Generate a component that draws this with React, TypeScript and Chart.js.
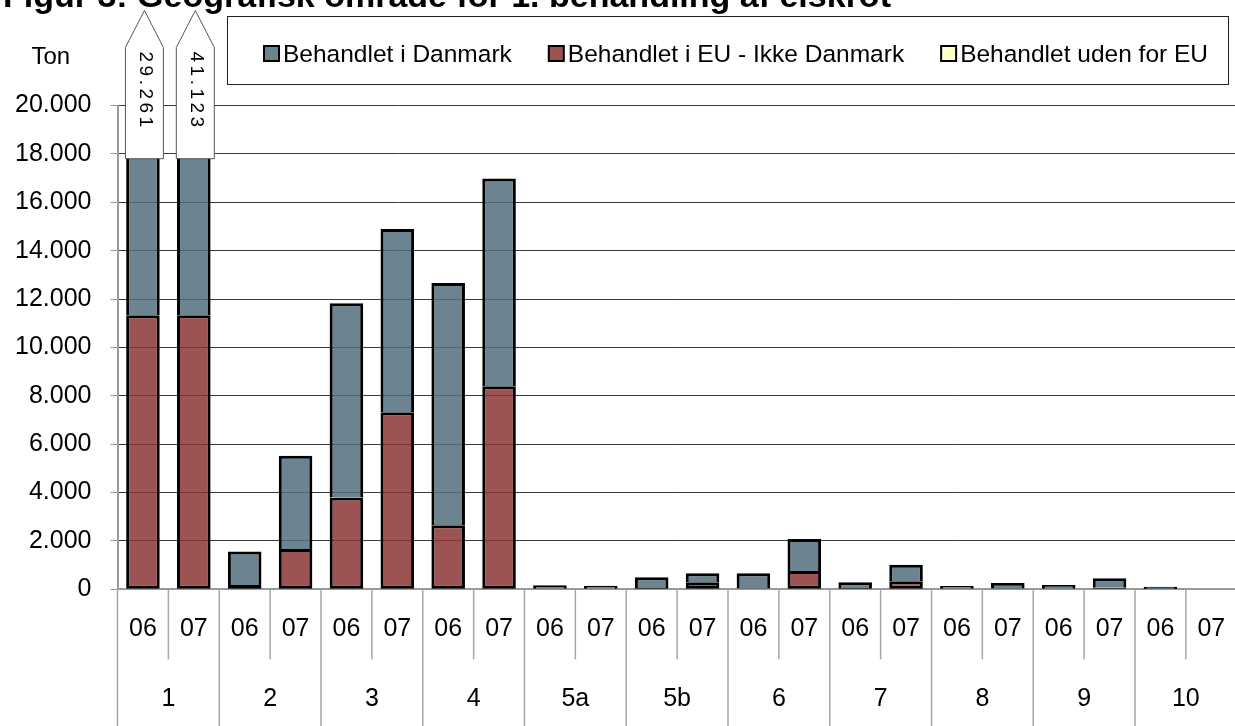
import React, { useEffect, useRef } from 'react';
import { Chart, registerables } from 'chart.js';

Chart.register(...registerables);

const FONT = '"Liberation Sans", Arial, Helvetica, sans-serif';

const titleText = 'Figur 3: Geografisk område for 1. behandling af elskrot';
const unitLabel = 'Ton';

const groups = ['1', '2', '3', '4', '5a', '5b', '6', '7', '8', '9', '10'];
const years = ['06', '07'];
const yearLabels = groups.flatMap(() => years);

const seriesNames = ['Behandlet i Danmark', 'Behandlet i EU - Ikke Danmark', 'Behandlet uden for EU'];

// values in tons, one per (group, year) pair
const danmark = [17931, 29793, 1380, 3850, 8040, 7570, 10010, 8590, 140, 130, 450, 370, 620, 1320, 240, 690, 120, 220, 155, 395, 95, 0];
const euIkkeDanmark = [11330, 11330, 180, 1670, 3790, 7320, 2650, 8390, 25, 20, 50, 290, 40, 760, 50, 330, 20, 40, 25, 60, 15, 0];
const udenForEU = [0, 0, 0, 0, 0, 0, 0, 0, 0, 0, 0, 0, 0, 0, 0, 0, 0, 0, 0, 0, 0, 0];

// bars that run off the top of the axis, with their printed totals
const truncatedIndex = [0, 1];
const truncatedTotals = [29261, 41123];

const yMin = 0;
const yMax = 20000;
const yStep = 2000;

const solidColors = ['#6c8390', '#9b5353', '#ffffcc'];
const barColors = ['rgba(82,109,124,0.85)', 'rgba(137,53,53,0.85)', 'rgba(255,255,200,0.9)'];

const fmt = (v: number) => Math.round(v).toString().replace(/\B(?=(\d{3})+(?!\d))/g, '.');

const decorPlugin = {
  id: 'decor',
  afterDraw(chart: any) {
    const ctx: CanvasRenderingContext2D = chart.ctx;
    const xs = chart.scales.x;
    const ys = chart.scales.y;
    const area = chart.chartArea;
    ctx.save();

    // category separators below the axis
    const n = yearLabels.length;
    const w = (xs.right - xs.left) / n;
    ctx.strokeStyle = '#a6a6a6';
    ctx.lineWidth = 1.5;
    for (let i = 0; i <= n; i++) {
      const px = xs.left + i * w;
      ctx.beginPath();
      ctx.moveTo(px, area.bottom);
      ctx.lineTo(px, i % 2 === 0 ? chart.height : xs.bottom);
      ctx.stroke();
    }

    // callout boxes for truncated bars
    const meta = chart.getDatasetMeta(1);
    truncatedIndex.forEach((idx, k) => {
      const bar = meta.data[idx];
      if (!bar) return;
      const cx = bar.x + 1.5;
      const half = 19;
      const tipY = area.top - 95;
      const shoulderY = area.top - 58;
      const bottomY = ys.getPixelForValue(17800);
      ctx.beginPath();
      ctx.moveTo(cx, tipY);
      ctx.lineTo(cx + half, shoulderY);
      ctx.lineTo(cx + half, bottomY);
      ctx.lineTo(cx - half, bottomY);
      ctx.lineTo(cx - half, shoulderY);
      ctx.closePath();
      ctx.fillStyle = '#ffffff';
      ctx.fill();
      ctx.strokeStyle = '#555555';
      ctx.lineWidth = 1;
      ctx.stroke();

      ctx.save();
      ctx.translate(cx + 1, shoulderY + 4);
      ctx.rotate(Math.PI / 2);
      ctx.font = `19px ${FONT}`;
      (ctx as any).letterSpacing = '3.5px';
      ctx.fillStyle = '#000';
      ctx.textAlign = 'left';
      ctx.textBaseline = 'middle';
      ctx.fillText(fmt(truncatedTotals[k]), 0, 0);
      ctx.restore();
    });

    // title (partly off the top edge)
    ctx.fillStyle = '#000';
    ctx.font = `bold 34px ${FONT}`;
    ctx.textAlign = 'left';
    ctx.textBaseline = 'alphabetic';
    ctx.fillText(titleText, 3, 7);

    // unit label
    ctx.font = `24px ${FONT}`;
    ctx.fillText(unitLabel, 31.5, 64.3);

    // legend
    ctx.strokeStyle = '#222';
    ctx.lineWidth = 1;
    ctx.strokeRect(227.5, 16.5, 1001, 68);
    ctx.font = `24.5px ${FONT}`;
    let lx = 264;
    seriesNames.forEach((name, i) => {
      ctx.fillStyle = solidColors[i];
      ctx.fillRect(lx, 46, 15, 15);
      ctx.strokeStyle = '#000';
      ctx.lineWidth = 2;
      ctx.strokeRect(lx, 46, 15, 15);
      ctx.fillStyle = '#000';
      ctx.fillText(name, lx + 19, 61.7);
      lx += 19 + ctx.measureText(name).width + 37;
    });

    ctx.restore();
  },
};

export default function App() {
  const canvasRef = useRef<HTMLCanvasElement | null>(null);

  useEffect(() => {
    if (!canvasRef.current) return;
    Chart.defaults.font.family = FONT;
    const common = {
      borderColor: '#000',
      inflateAmount: 0,
      borderSkipped: false as const,
      barPercentage: 0.66,
      categoryPercentage: 1.0,
      stack: 's',
      clip: 0,
    };
    const upperBorder = { top: 3, left: 3, right: 3, bottom: 0 };
    const chart = new Chart(canvasRef.current, {
      type: 'bar',
      data: {
        labels: yearLabels,
        datasets: [
          { label: seriesNames[1], data: euIkkeDanmark, backgroundColor: barColors[1], borderWidth: 3, ...common },
          { label: seriesNames[0], data: danmark, backgroundColor: barColors[0], borderWidth: upperBorder, ...common },
          { label: seriesNames[2], data: udenForEU, backgroundColor: barColors[2], borderWidth: upperBorder, ...common },
        ],
      },
      options: {
        animation: false,
        responsive: true,
        maintainAspectRatio: false,
        layout: { padding: { top: 105.5, left: 0, right: 4.6, bottom: 0 } },
        plugins: {
          legend: { display: false },
          tooltip: { enabled: false },
          title: { display: false },
        },
        scales: {
          x: {
            type: 'category',
            stacked: true,
            offset: true,
            weight: 0,
            grid: { display: false, drawTicks: false },
            border: { display: true, color: '#999', width: 2 },
            ticks: {
              color: '#000',
              font: { size: 25, family: FONT },
              padding: 24.7,
              autoSkip: false,
              maxRotation: 0,
              minRotation: 0,
            },
            afterFit: (s: any) => {
              s.height = 70;
            },
          },
          x2: {
            type: 'category',
            labels: groups,
            position: 'bottom',
            offset: true,
            weight: 1,
            grid: { display: false, drawTicks: false },
            border: { display: false },
            ticks: {
              color: '#000',
              font: { size: 25, family: FONT },
              padding: 25.2,
              autoSkip: false,
              maxRotation: 0,
              minRotation: 0,
            },
            afterFit: (s: any) => {
              s.height = 66.7;
            },
          },
          y: {
            stacked: true,
            min: yMin,
            max: yMax,
            grid: {
              color: (c: any) => (c.tick && c.tick.value === 0 ? '#999' : '#3a3a3a'),
              tickColor: '#999',
              tickLength: 7,
              lineWidth: 1,
            },
            border: { display: true, color: '#999', width: 2 },
            ticks: {
              stepSize: yStep,
              color: '#000',
              font: { size: 25, family: FONT },
              padding: 19,
              callback: (v: any) => fmt(Number(v)),
            },
            afterFit: (s: any) => {
              s.width = 117.5;
            },
          },
        },
      } as any,
      plugins: [decorPlugin],
    });
    return () => chart.destroy();
  }, []);

  return (
    <div
      style={{
        position: 'fixed',
        left: 0,
        top: 0,
        width: 1235,
        height: 726,
        overflow: 'hidden',
        background: '#fff',
      }}
    >
      <div style={{ width: 1250, height: 726, position: 'relative' }}>
        <canvas ref={canvasRef} />
      </div>
    </div>
  );
}
